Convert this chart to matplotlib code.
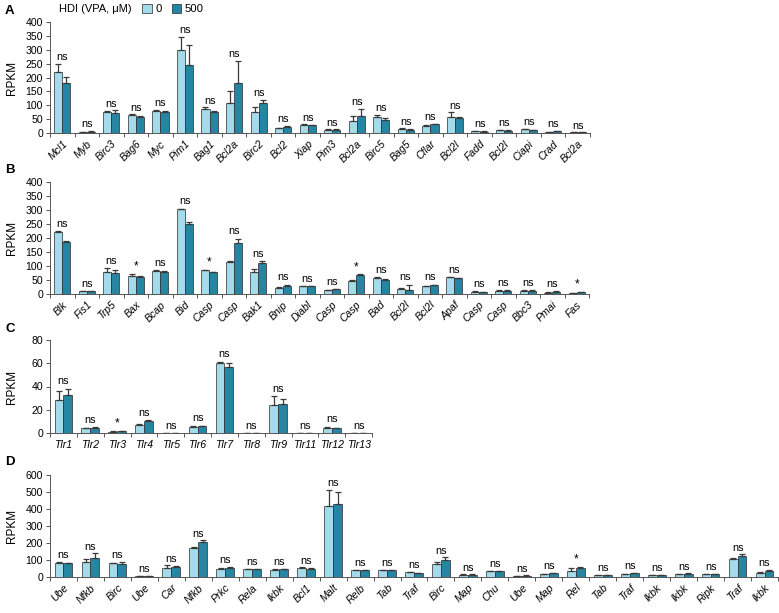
import matplotlib
matplotlib.use("Agg")
import matplotlib.pyplot as plt
import numpy as np
from matplotlib.patches import Patch

plt.rcParams['font.family'] = ['Liberation Sans', 'DejaVu Sans']

LIGHT = '#a3dbea'
DARK = '#2585a3'

# ---------------- Panel A ----------------
a_genes = ['Mcl1', 'Myb', 'Birc3', 'Bag6', 'Myc', 'Pim1', 'Bag1', 'Bcl2a', 'Birc2', 'Bcl2', 'Xiap',
           'Pim3', 'Bcl2a', 'Birc5', 'Bag5', 'Cflar', 'Bcl2l', 'Fadd', 'Bcl2l', 'Ciapi', 'Crad', 'Bcl2a']
a_v0 = [218, 3, 78, 65, 80, 298, 88, 110, 78, 18, 30, 13, 44, 57, 16, 27, 57, 7, 11, 14, 5, 3]
a_e0 = [30, 2, 3, 3, 5, 48, 5, 40, 18, 2, 2, 1, 19, 8, 2, 1, 18, 1, 1, 1, 1, 1]
a_v1 = [181, 5, 72, 58, 76, 246, 78, 182, 107, 22, 28, 13, 63, 48, 13, 32, 55, 6, 10, 12, 7, 3]
a_e1 = [22, 5, 10, 4, 3, 72, 2, 78, 14, 5, 2, 1, 25, 8, 1, 1, 2, 1, 1, 1, 1, 1]
a_sig = ['ns'] * 22

# ---------------- Panel B ----------------
b_genes = ['Blk', 'Fis1', 'Trp5', 'Bax', 'Bcap', 'Bid', 'Casp', 'Casp', 'Bak1', 'Bnip', 'Diabl',
           'Casp', 'Casp', 'Bad', 'Bcl2l', 'Bcl2l', 'Apaf', 'Casp', 'Casp', 'Bbc3', 'Pmai', 'Fas']
b_v0 = [220, 9, 77, 65, 81, 301, 85, 114, 80, 22, 28, 15, 47, 57, 18, 27, 59, 8, 12, 12, 5, 4]
b_e0 = [4, 2, 15, 8, 4, 3, 2, 4, 8, 3, 1, 1, 2, 2, 2, 2, 2, 1, 1, 1, 1, 1]
b_v1 = [184, 9, 74, 62, 78, 249, 78, 183, 109, 27, 28, 17, 67, 51, 14, 31, 56, 7, 12, 12, 8, 6]
b_e1 = [6, 2, 12, 3, 4, 6, 1, 14, 8, 6, 1, 1, 3, 2, 19, 2, 2, 1, 1, 1, 1, 2]
b_sig = ['ns', 'ns', 'ns', '*', 'ns', 'ns', '*', 'ns', 'ns', 'ns', 'ns',
         'ns', '*', 'ns', 'ns', 'ns', 'ns', 'ns', 'ns', 'ns', 'ns', '*']

# ---------------- Panel C ----------------
c_genes = ['Tlr1', 'Tlr2', 'Tlr3', 'Tlr4', 'Tlr5', 'Tlr6', 'Tlr7', 'Tlr8', 'Tlr9', 'Tlr11', 'Tlr12', 'Tlr13']
c_v0 = [28, 4, 1.2, 7, 0.1, 5.4, 60, 0.1, 24.5, 0.1, 4.5, 0.1]
c_e0 = [8, 0.3, 0.2, 0.5, 0, 0.5, 1.5, 0, 7, 0, 1, 0]
c_v1 = [33, 4.5, 1.8, 10, 0.1, 6, 57, 0.1, 25, 0.1, 4, 0.1]
c_e1 = [5, 0.3, 0.3, 1, 0, 0.4, 3, 0, 4.5, 0, 0.5, 0]
c_sig = ['ns', 'ns', '*', 'ns', 'ns', 'ns', 'ns', 'ns', 'ns', 'ns', 'ns', 'ns']

# ---------------- Panel D ----------------
d_genes = ['Ube', 'Nfkb', 'Birc', 'Ube', 'Car', 'Nfkb', 'Prkc', 'Rela', 'Ikbk', 'Bcl1', 'Malt', 'Relb',
           'Tab', 'Traf', 'Birc', 'Map', 'Chu', 'Ube', 'Map', 'Rel', 'Tab', 'Traf', 'Ikbk', 'Ikbk',
           'Ripk', 'Traf', 'Ikbk']
d_v0 = [85, 89, 80, 7, 53, 173, 45, 47, 43, 53, 417, 40, 42, 27, 79, 14, 35, 6, 18, 35, 10, 18, 10, 18, 18, 106, 25]
d_e0 = [3, 17, 3, 1, 15, 3, 10, 2, 2, 3, 95, 2, 2, 2, 12, 1, 2, 1, 2, 16, 1, 2, 1, 2, 2, 3, 2]
d_v1 = [80, 112, 75, 7, 61, 208, 55, 47, 47, 49, 430, 40, 42, 22, 102, 14, 35, 8, 24, 51, 10, 22, 10, 20, 18, 122, 37]
d_e1 = [3, 28, 13, 1, 3, 8, 4, 2, 2, 2, 68, 2, 2, 2, 14, 1, 2, 1, 2, 9, 1, 2, 1, 2, 2, 12, 6]
d_sig = ['ns'] * 19 + ['*'] + ['ns'] * 7

W, H = 779, 613
fig = plt.figure(figsize=(W / 100, H / 100), dpi=100)


def px_axes(left, top, right, bottom):
    return fig.add_axes([left / W, 1 - bottom / H, (right - left) / W, (bottom - top) / H])


def draw(ax, genes, v0, e0, v1, e1, sig, ymax, ystep, rot, pad, left_px, right_px):
    n = len(genes)
    x = np.arange(n)
    w = 0.33
    ek = dict(ecolor='#3a3a3a', elinewidth=0.9, capsize=2.5, capthick=0.9)
    ax.bar(x - w / 2, v0, w, color=LIGHT, edgecolor='#2b2b2b', linewidth=0.5,
           yerr=[np.zeros(n), e0], error_kw=ek)
    ax.bar(x + w / 2, v1, w, color=DARK, edgecolor='#2b2b2b', linewidth=0.5,
           yerr=[np.zeros(n), e1], error_kw=ek)
    tops = np.maximum(np.array(v0) + np.array(e0), np.array(v1) + np.array(e1))
    for xi, t, s in zip(x, tops, sig):
        if s == '*':
            ax.text(xi, t + pad * 0.6, s, ha='center', va='bottom', fontsize=8.5)
        else:
            ax.text(xi, t + pad, s, ha='center', va='bottom', fontsize=7.8)
    ax.set_xlim(-0.5, n - 0.5)
    ax.set_ylim(0, ymax)
    ax.set_yticks(np.arange(0, ymax + 1, ystep))
    ax.tick_params(axis='y', labelsize=7.6, length=3, width=0.7, pad=2)
    ax.set_xticks(np.arange(-0.5, n, 1.0))
    ax.set_xticklabels([])
    ax.tick_params(axis='x', which='major', length=3, width=0.7, direction='out')
    ax.set_xticks(x, minor=True)
    if rot:
        ax.set_xticklabels(genes, minor=True, rotation=45, ha='right', rotation_mode='anchor',
                           fontsize=7.6, style='italic')
        ax.tick_params(axis='x', which='minor', length=0, pad=4)
    else:
        ax.set_xticklabels(genes, minor=True, fontsize=7.6, style='italic')
        ax.tick_params(axis='x', which='minor', length=0, pad=5)
    for sp in ['top', 'right']:
        ax.spines[sp].set_visible(False)
    for sp in ['left', 'bottom']:
        ax.spines[sp].set_linewidth(0.7)
        ax.spines[sp].set_color('#555555')
    ax.tick_params(colors='#555555', labelcolor='black')
    ax.set_ylabel('RPKM', fontsize=8.5)
    ax.yaxis.set_label_coords((18 - left_px) / (right_px - left_px), 0.5)


axA = px_axes(50, 21.7, 590, 133.3)
draw(axA, a_genes, a_v0, a_e0, a_v1, a_e1, a_sig, 400, 50, True, 6, 50, 590)
axB = px_axes(50, 181.7, 589, 294)
draw(axB, b_genes, b_v0, b_e0, b_v1, b_e1, b_sig, 400, 50, True, 8, 50, 589)
axC = px_axes(50, 340, 372, 433)
draw(axC, c_genes, c_v0, c_e0, c_v1, c_e1, c_sig, 80, 20, False, 2, 50, 372)
axD = px_axes(50, 475, 778, 577)
draw(axD, d_genes, d_v0, d_e0, d_v1, d_e1, d_sig, 600, 100, True, 10, 50, 778)

for lab, ypx in [('A', 11), ('B', 170), ('C', 329), ('D', 462)]:
    fig.text(5 / W, 1 - ypx / H, lab, fontsize=9.5, fontweight='bold', va='center', ha='left')

fig.text(59 / W, 1 - 9 / H, 'HDI (VPA, \u03bcM)', fontsize=8, va='center', ha='left')
handles = [Patch(facecolor=LIGHT, edgecolor='#2b2b2b', linewidth=0.5, label='0'),
           Patch(facecolor=DARK, edgecolor='#2b2b2b', linewidth=0.5, label='500')]
fig.legend(handles=handles, ncol=2, frameon=False, loc='center left',
           bbox_to_anchor=(142 / W, 1 - 9 / H), fontsize=8.2, handlelength=0.85,
           handleheight=0.85, handletextpad=0.3, columnspacing=0.9, borderpad=0, borderaxespad=0)

fig.savefig('out.png', dpi=100)
